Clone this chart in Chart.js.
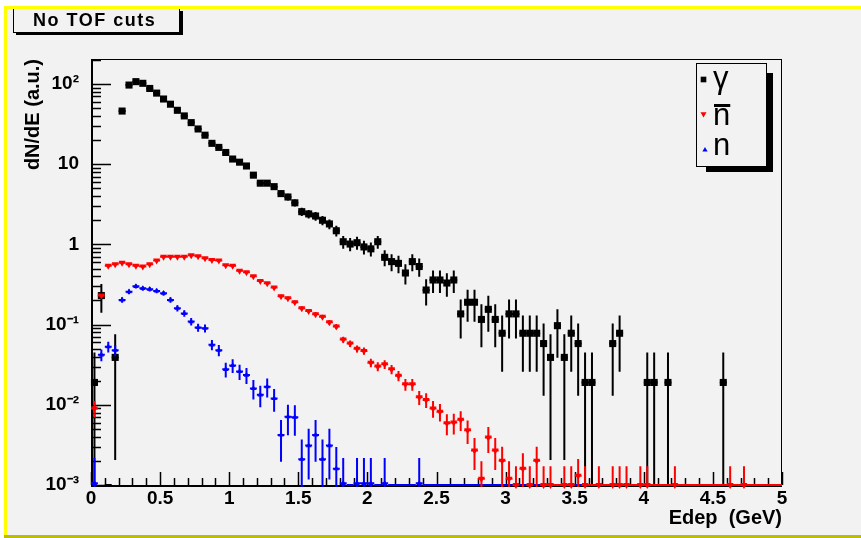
<!DOCTYPE html>
<html>
<head>
<meta charset="utf-8">
<title>No TOF cuts</title>
<script src="https://cdn.jsdelivr.net/npm/chart.js@4.4.1/dist/chart.umd.min.js"></script>
<style>
  html, body { margin: 0; padding: 0; background: #ffffff; }
  #wrap { width: 861px; height: 538px; }
</style>
</head>
<body>
<div id="wrap"><canvas id="edepChart" width="861" height="538"></canvas></div>
<script>
// Histogram binning: 100 bins of 50 MeV from 0 to 5 GeV
const xMin = 0;
const xMax = 5;
const nBins = 100;
const binWidth = (xMax - xMin) / nBins;
const binCenters = [];
for (let i = 0; i < nBins; i++) binCenters.push(+(xMin + binWidth * (i + 0.5)).toFixed(3));

// Axis ticks
const xTickValues = [0, 0.5, 1, 1.5, 2, 2.5, 3, 3.5, 4, 4.5, 5];
const yTickValues = [0.001, 0.01, 0.1, 1, 10, 100];
const yTickLabels = ['10\u207B\u00B3', '10\u207B\u00B2', '10\u207B\u00B9', '1', '10', '10\u00B2'];
const yMin = 0.001;
const yMax = 205;

// dN/dE per bin, 0 = empty bin
const gammaValues = [
  0.019, 0.23, 0, 0.039, 46, 97, 107, 102, 88, 77,
  65, 56, 47, 40, 33, 27.5, 23, 18.2, 16.2, 14,
  11.6, 10.6, 9.5, 7.3, 5.8, 5.8, 5.25, 4.3, 3.9, 3.3,
  2.56, 2.4, 2.26, 2.0, 1.8, 1.48, 1.08, 1.01, 1.05, 0.93,
  0.88, 1.08, 0.69, 0.61, 0.58, 0.44, 0.61, 0.53, 0.27, 0.36,
  0.36, 0.33, 0.36, 0.136, 0.19, 0.19, 0.116, 0.155, 0.116, 0.078,
  0.136, 0.136, 0.078, 0.078, 0.078, 0.058, 0.039, 0.097, 0.039, 0.078,
  0.058, 0.019, 0.019, 0, 0, 0.058, 0.078, 0, 0, 0,
  0.019, 0.019, 0, 0.019, 0, 0, 0, 0, 0, 0,
  0, 0.019, 0, 0, 0, 0, 0, 0, 0, 0
];
const nbarValues = [
  0.009, 0.23, 0.54, 0.565, 0.59, 0.565, 0.54, 0.53, 0.565, 0.63,
  0.70, 0.70, 0.70, 0.70, 0.73, 0.71, 0.67, 0.64, 0.63, 0.55,
  0.54, 0.47, 0.45, 0.40, 0.35, 0.327, 0.29, 0.225, 0.213, 0.19,
  0.16, 0.148, 0.135, 0.125, 0.107, 0.095, 0.065, 0.058, 0.05, 0.047,
  0.0335, 0.030, 0.032, 0.0277, 0.023, 0.018, 0.018, 0.0124, 0.0115, 0.009,
  0.0082, 0.0059, 0.006, 0.0065, 0.0048, 0.0027, 0.0012, 0.0039, 0.0027, 0.002,
  0.0012, 0.001, 0.0016, 0.001, 0.002, 0.001, 0.001, 0, 0.001, 0.001,
  0.0013, 0.001, 0, 0.001, 0, 0.001, 0.001, 0.001, 0, 0.001,
  0.001, 0, 0, 0, 0.001, 0, 0, 0, 0, 0,
  0, 0, 0.001, 0, 0.001, 0, 0, 0, 0, 0
];
const nValues = [
  0.00105, 0.042, 0.053, 0.048, 0.203, 0.257, 0.30, 0.283, 0.276, 0.263,
  0.246, 0.203, 0.16, 0.138, 0.109, 0.092, 0.09, 0.056, 0.048, 0.0277,
  0.031, 0.026, 0.0235, 0.016, 0.0133, 0.0168, 0.012, 0.0042, 0.0071, 0.007,
  0.0021, 0.0031, 0.0042, 0.0021, 0.0031, 0.0016, 0.00105, 0, 0.00105, 0.00105,
  0.00105, 0, 0.00105, 0, 0, 0, 0, 0.00105, 0, 0,
  0, 0, 0, 0, 0, 0, 0, 0, 0, 0,
  0, 0, 0, 0, 0, 0, 0, 0, 0, 0,
  0, 0, 0, 0, 0, 0, 0, 0, 0, 0,
  0, 0, 0, 0, 0, 0, 0, 0, 0, 0,
  0, 0, 0, 0, 0, 0, 0, 0, 0, 0
];

// weight per entry, used for the error bars (sigma^2 = value * weight)
const gammaErrWeight = 0.035;
const nbarErrWeight = 0.0005;
const nErrWeight = 0.0012;

const legendLabels = ['\u03B3', 'n\u0304', 'n'];
const titleText = 'No TOF cuts';

const BG = '#f2f2f2';
const FONT = "'Liberation Sans', Arial, sans-serif";

function toPoints(values) {
    const pts = [];
    values.forEach((v, i) => {
        if (v > 0) pts.push({ x: binCenters[i], y: v });
    });
    return pts;
}

// Background, yellow pad border and the title pave
const padPlugin = {
    id: 'pad',
    beforeDraw(chart) {
        const ctx = chart.ctx;
        ctx.save();
        ctx.fillStyle = '#ffffff';
        ctx.fillRect(0, 0, 861, 538);
        ctx.fillStyle = BG;
        ctx.fillRect(7, 9, 854, 526);

        // title box with shadow
        ctx.fillStyle = '#000';
        ctx.fillRect(16, 32, 167, 3);
        ctx.fillRect(180, 11, 3, 24);
        ctx.strokeStyle = '#000';
        ctx.lineWidth = 1;
        ctx.strokeRect(13.5, 6.5, 166, 26);
        ctx.fillStyle = '#000';
        ctx.font = 'bold 18px ' + FONT;
        ctx.letterSpacing = '1.5px';
        ctx.textBaseline = 'alphabetic';
        ctx.textAlign = 'left';
        ctx.fillText(titleText, 33, 26);
        ctx.letterSpacing = '0px';

        // pad border
        ctx.fillStyle = '#ffff00';
        ctx.fillRect(4, 6, 857, 3);
        ctx.fillRect(4, 6, 3, 529);
        ctx.fillStyle = '#bdbd00';
        ctx.fillRect(4, 535, 857, 3);
        ctx.restore();
    }
};

// Frame and inward ticks, ROOT style
const framePlugin = {
    id: 'frame',
    beforeDatasetsDraw(chart) {
        const { ctx, chartArea: a, scales: { x, y } } = chart;
        ctx.save();
        ctx.strokeStyle = '#000';
        ctx.lineWidth = 1;
        ctx.strokeRect(a.left + 0.5, a.top + 0.5, a.right - a.left - 1, a.bottom - a.top);

        ctx.lineWidth = 2;
        ctx.beginPath();
        ctx.moveTo(a.left + 1, a.top);
        ctx.lineTo(a.left + 1, a.bottom + 1);
        ctx.lineTo(a.right, a.bottom + 1);
        ctx.stroke();

        ctx.lineWidth = 1.5;
        ctx.beginPath();
        for (let d = -3; d <= 2; d++) {
            for (let m = 1; m <= 9; m++) {
                const v = m * Math.pow(10, d);
                if (v < yMin * 0.999 || v > yMax) continue;
                const py = Math.round(y.getPixelForValue(v)) + 0.5;
                const len = m === 1 ? 20 : 10;
                ctx.moveTo(a.left, py);
                ctx.lineTo(a.left + len, py);
            }
        }
        for (let k = 0; k <= 50; k++) {
            const px = Math.round(x.getPixelForValue(k * 0.1)) + 0.5;
            const len = k % 5 === 0 ? 13 : 7;
            ctx.moveTo(px, a.bottom);
            ctx.lineTo(px, a.bottom - len);
        }
        ctx.stroke();
        ctx.restore();
    }
};

// Error bars drawn under each histogram's markers
const errorBarPlugin = {
    id: 'errorBars',
    beforeDatasetDraw(chart, args) {
        const ds = chart.data.datasets[args.index];
        if (!ds.rawValues) return;
        const { ctx, chartArea: a, scales: { x, y } } = chart;
        ctx.save();
        ctx.beginPath();
        ctx.rect(a.left, a.top, a.right - a.left, a.bottom - a.top + 2);
        ctx.clip();
        ctx.strokeStyle = ds.borderColor;
        ctx.lineWidth = 2;
        ctx.beginPath();
        ds.rawValues.forEach((v, i) => {
            const c = binCenters[i];
            const xl = x.getPixelForValue(c - binWidth / 2);
            const xr = x.getPixelForValue(c + binWidth / 2);
            const px = x.getPixelForValue(c);
            if (v <= 0) {
                ctx.moveTo(xl, a.bottom);
                ctx.lineTo(xr, a.bottom);
                return;
            }
            const err = Math.sqrt(v * ds.errWeight);
            const py = v <= yMin ? a.bottom : y.getPixelForValue(v);
            const top = y.getPixelForValue(v + err);
            const bot = v - err > yMin ? y.getPixelForValue(v - err) : a.bottom + 2;
            ctx.moveTo(px, top);
            ctx.lineTo(px, bot);
            ctx.moveTo(xl, py);
            ctx.lineTo(xr, py);
        });
        ctx.stroke();
        ctx.restore();
    }
};

// Legend box (TLegend with shadow)
const legendPlugin = {
    id: 'rootLegend',
    afterDraw(chart) {
        const ctx = chart.ctx;
        ctx.save();
        ctx.fillStyle = '#000';
        ctx.fillRect(767, 73, 6, 99);
        ctx.fillRect(706, 167, 67, 5);
        ctx.fillStyle = BG;
        ctx.fillRect(697, 64, 69, 102);
        ctx.strokeStyle = '#000';
        ctx.lineWidth = 1;
        ctx.strokeRect(696.5, 63.5, 70, 103);

        const rows = [
            { ds: chart.data.datasets[0], mx: 703.5, my: 79.5, base: 88 },
            { ds: chart.data.datasets[1], mx: 703.5, my: 114, base: 125 },
            { ds: chart.data.datasets[2], mx: 705, my: 150, base: 155 }
        ];
        rows.forEach((r, k) => {
            ctx.fillStyle = r.ds.pointBackgroundColor;
            ctx.strokeStyle = r.ds.pointBackgroundColor;
            Chart.helpers.drawPoint(ctx, {
                pointStyle: r.ds.pointStyle,
                radius: r.ds.legendRadius,
                rotation: r.ds.pointRotation || 0,
                borderWidth: 0
            }, r.mx, r.my);
            ctx.fillStyle = '#000';
            ctx.font = '31px ' + FONT;
            ctx.textAlign = 'left';
            ctx.textBaseline = 'alphabetic';
            const label = legendLabels[k];
            const base = label.replace('\u0304', '');
            ctx.fillText(base, 713, r.base);
            if (base !== label) {
                const w = ctx.measureText(base).width;
                ctx.fillRect(714, 104, w - 1, 3);
            }
        });
        ctx.restore();
    }
};

const tickFont = { family: FONT, size: 19, weight: 'bold' };
const titleFont = { family: FONT, size: 20, weight: 'bold' };
const clipBox = { left: 5, top: 0, right: 5, bottom: 6 };

new Chart(document.getElementById('edepChart'), {
    type: 'scatter',
    data: {
        datasets: [
            {
                label: '\u03B3',
                data: toPoints(gammaValues),
                rawValues: gammaValues,
                errWeight: gammaErrWeight,
                pointStyle: 'rect',
                pointRadius: 5,
                legendRadius: 4,
                pointBackgroundColor: '#000000',
                pointBorderColor: '#000000',
                pointBorderWidth: 0,
                borderColor: '#000000',
                showLine: false,
                clip: clipBox,
                order: 3
            },
            {
                label: 'n\u0304',
                data: toPoints(nbarValues),
                rawValues: nbarValues,
                errWeight: nbarErrWeight,
                pointStyle: 'triangle',
                pointRotation: 180,
                pointRadius: 4,
                legendRadius: 3.5,
                pointBackgroundColor: '#ff0000',
                pointBorderColor: '#ff0000',
                pointBorderWidth: 0,
                borderColor: '#ff0000',
                showLine: false,
                clip: clipBox,
                order: 1
            },
            {
                label: 'n',
                data: toPoints(nValues),
                rawValues: nValues,
                errWeight: nErrWeight,
                pointStyle: 'triangle',
                pointRadius: 3.2,
                legendRadius: 3,
                pointBackgroundColor: '#0000ff',
                pointBorderColor: '#0000ff',
                pointBorderWidth: 0,
                borderColor: '#0000ff',
                showLine: false,
                clip: clipBox,
                order: 2
            }
        ]
    },
    options: {
        responsive: false,
        animation: false,
        devicePixelRatio: 1,
        layout: { padding: { left: 0, top: 59, right: 79, bottom: 0 } },
        plugins: {
            legend: { display: false },
            tooltip: { enabled: false }
        },
        scales: {
            x: {
                type: 'linear',
                min: xMin,
                max: xMax,
                afterFit(scale) { scale.height = 53; },
                afterBuildTicks(scale) { scale.ticks = xTickValues.map(v => ({ value: v })); },
                ticks: {
                    color: '#000',
                    font: tickFont,
                    padding: 2,
                    maxRotation: 0,
                    autoSkip: false,
                    callback: v => String(v)
                },
                grid: { display: false, drawTicks: false },
                border: { display: false },
                title: {
                    display: true,
                    text: 'Edep  (GeV)',
                    align: 'end',
                    color: '#000',
                    font: titleFont,
                    padding: { top: 0, bottom: 8 }
                }
            },
            y: {
                type: 'logarithmic',
                min: yMin,
                max: yMax,
                afterFit(scale) { scale.width = 91; },
                afterBuildTicks(scale) { scale.ticks = yTickValues.map(v => ({ value: v })); },
                ticks: {
                    color: '#000',
                    font: tickFont,
                    padding: 12,
                    autoSkip: false,
                    callback: function(value) {
                        const k = yTickValues.indexOf(value);
                        return k >= 0 ? yTickLabels[k] : '';
                    }
                },
                grid: { display: false, drawTicks: false },
                border: { display: false },
                title: {
                    display: true,
                    text: 'dN/dE (a.u.)',
                    align: 'end',
                    color: '#000',
                    font: titleFont,
                    padding: { top: 21, bottom: 0 }
                }
            }
        }
    },
    plugins: [padPlugin, framePlugin, errorBarPlugin, legendPlugin]
});
</script>
</body>
</html>
